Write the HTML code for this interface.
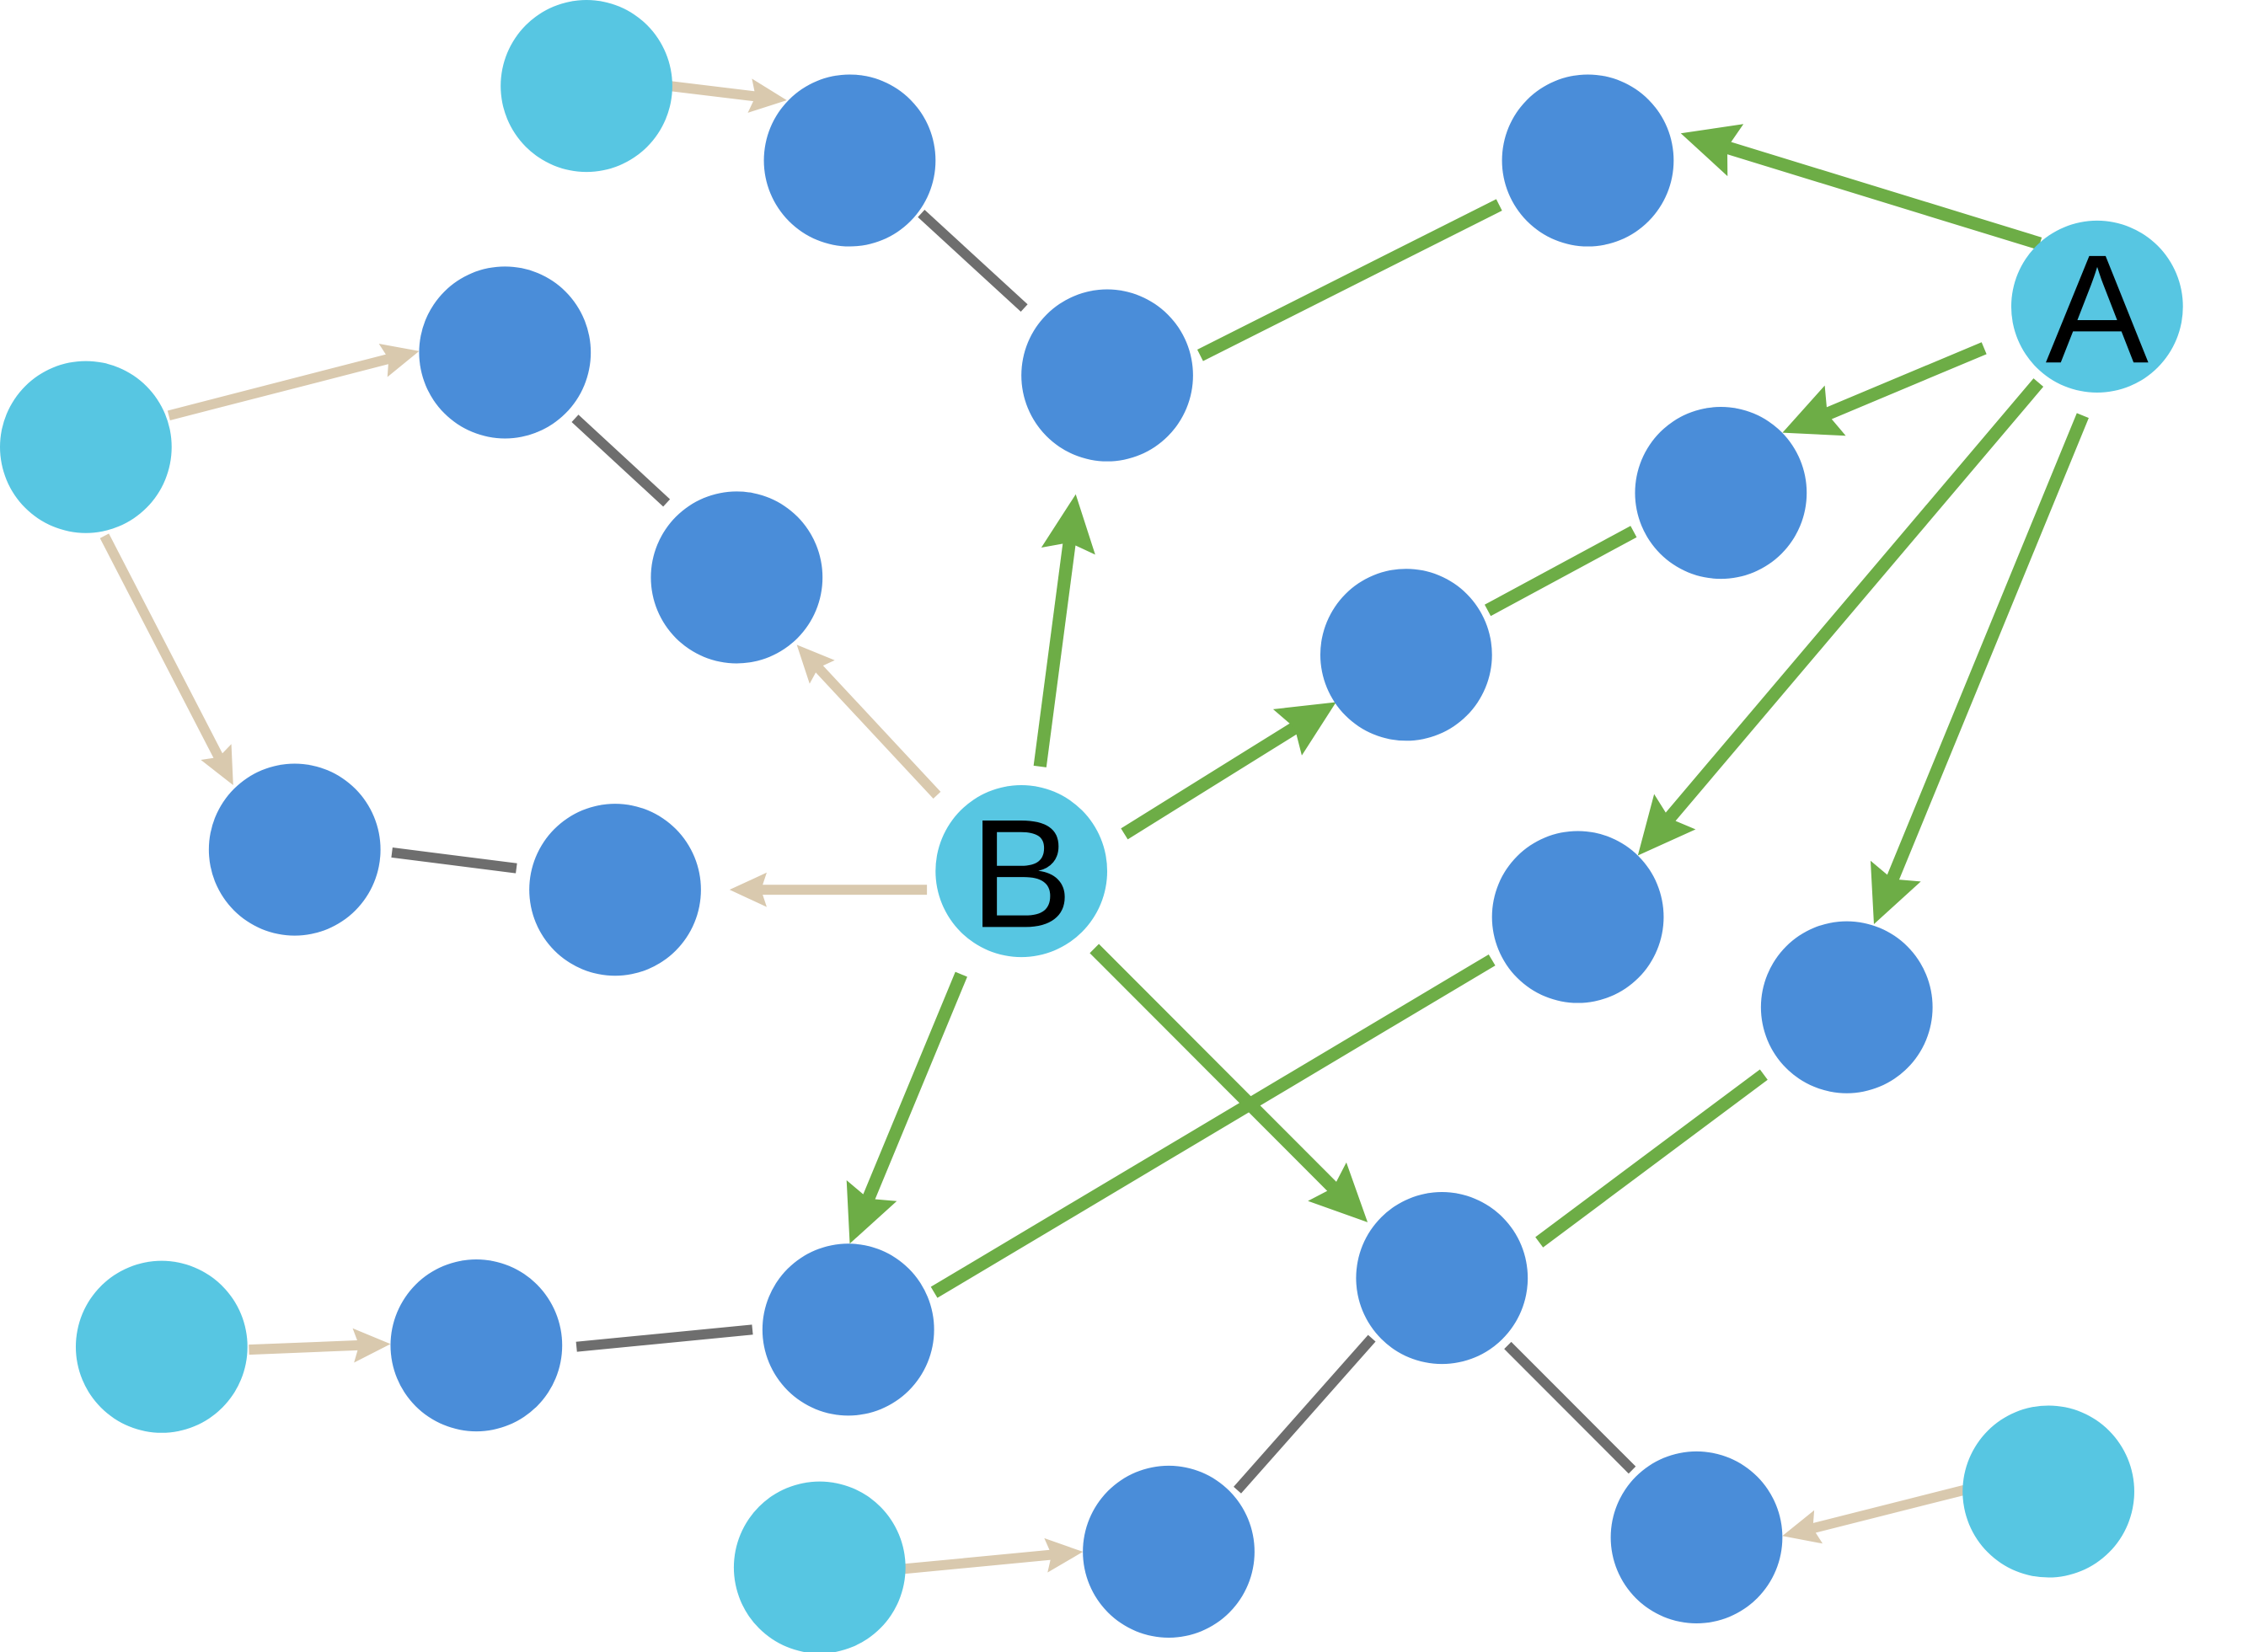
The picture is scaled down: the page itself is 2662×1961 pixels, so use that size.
<!DOCTYPE html>
<html><head><meta charset="utf-8"><style>html,body{margin:0;padding:0;background:#fff}svg{display:block}</style></head>
<body>
<svg width="2662" height="1961" viewBox="0 0 1568 1153" preserveAspectRatio="none" xmlns="http://www.w3.org/2000/svg">
<defs>
<marker id="t" markerUnits="userSpaceOnUse" markerWidth="30" markerHeight="26" refX="14" refY="12" orient="auto" overflow="visible"><path d="M0,0 L26,12 L0,24 L4,12 Z" fill="#D9C9AE"/></marker>
<marker id="g" markerUnits="userSpaceOnUse" markerWidth="44" markerHeight="40" refX="20" refY="19" orient="auto" overflow="visible"><path d="M0,0 L40,19 L0,38 L6,19 Z" fill="#6DAD46"/></marker>
</defs>
<g stroke="#D9C9AE" stroke-width="7" fill="none">
<line x1="468" y1="60" x2="538.1" y2="68.5" marker-end="url(#t)"/>
<line x1="118" y1="290" x2="281.4" y2="248" marker-end="url(#t)"/>
<line x1="73" y1="374" x2="157.5" y2="537.3" marker-end="url(#t)"/>
<line x1="655" y1="555" x2="565.2" y2="458.8" marker-end="url(#t)"/>
<line x1="648" y1="621" x2="522" y2="621" marker-end="url(#t)"/>
<line x1="174" y1="942" x2="261" y2="938.5" marker-end="url(#t)"/>
<line x1="632" y1="1095" x2="745.1" y2="1084.2" marker-end="url(#t)"/>
<line x1="1373" y1="1040" x2="1257.6" y2="1069.1" marker-end="url(#t)"/>
</g>
<g stroke="#6E6E6E" stroke-width="7">
<line x1="644" y1="149" x2="716" y2="215"/>
<line x1="402" y1="292" x2="466" y2="351"/>
<line x1="274" y1="595" x2="361" y2="606"/>
<line x1="403" y1="940" x2="526" y2="928"/>
<line x1="865" y1="1040" x2="959" y2="934"/>
<line x1="1054" y1="939" x2="1141" y2="1026"/>
</g>
<g stroke="#6DAD46" stroke-width="9" fill="none">
<line x1="1426" y1="170" x2="1194.1" y2="98.9" marker-end="url(#g)"/>
<line x1="1387" y1="243" x2="1264.5" y2="294.3" marker-end="url(#g)"/>
<line x1="1425" y1="267" x2="1157.9" y2="581.8" marker-end="url(#g)"/>
<line x1="1456" y1="290" x2="1317.6" y2="626.5" marker-end="url(#g)"/>
<line x1="839" y1="248" x2="1048" y2="143"/>
<line x1="727" y1="535" x2="749.4" y2="364.8" marker-end="url(#g)"/>
<line x1="786" y1="582" x2="917" y2="500.6" marker-end="url(#g)"/>
<line x1="672" y1="680" x2="601.7" y2="849.5" marker-end="url(#g)"/>
<line x1="765" y1="662" x2="941.9" y2="838.9" marker-end="url(#g)"/>
<line x1="1040" y1="426" x2="1142" y2="371"/>
<line x1="653" y1="902" x2="1043" y2="670"/>
<line x1="1076" y1="867" x2="1233" y2="750"/>
</g>
<g fill="#57C6E2">
<circle cx="410" cy="60" r="60"/><circle cx="60" cy="312" r="60"/><circle cx="113" cy="940" r="60"/>
<circle cx="573" cy="1094" r="60"/><circle cx="1432" cy="1041" r="60"/><circle cx="1466" cy="214" r="60"/><circle cx="714" cy="608" r="60"/>
</g>
<g fill="#4A8DD9">
<circle cx="594" cy="112" r="60"/><circle cx="1110" cy="112" r="60"/><circle cx="353" cy="246" r="60"/>
<circle cx="774" cy="262" r="60"/><circle cx="515" cy="403" r="60"/><circle cx="1203" cy="344" r="60"/>
<circle cx="983" cy="457" r="60"/><circle cx="206" cy="593" r="60"/><circle cx="430" cy="621" r="60"/>
<circle cx="1103" cy="640" r="60"/><circle cx="1291" cy="703" r="60"/><circle cx="593" cy="928" r="60"/>
<circle cx="333" cy="939" r="60"/><circle cx="1008" cy="892" r="60"/><circle cx="817" cy="1083" r="60"/>
<circle cx="1186" cy="1073" r="60"/>
</g>
<text x="1466" y="253" font-family="Liberation Sans, sans-serif" font-size="108" text-anchor="middle" fill="#000">A</text>
<text x="714" y="647" font-family="Liberation Sans, sans-serif" font-size="108" text-anchor="middle" fill="#000">B</text>
</svg>
</body></html>
